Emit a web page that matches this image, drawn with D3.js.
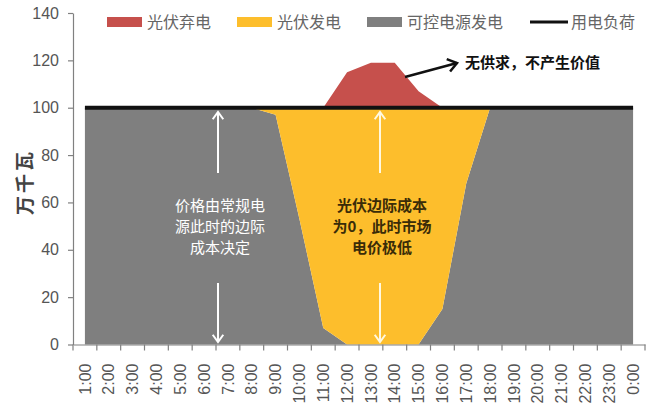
<!DOCTYPE html>
<html>
<head>
<meta charset="utf-8">
<script src="https://cdn.jsdelivr.net/npm/d3@7"></script>
<style>
  html, body { margin: 0; padding: 0; background: #fff; }
  svg { display: block; }
</style>
</head>
<body>
<svg id="chart" width="659" height="410"></svg>
<script>
// Hourly power balance on a typical day (unit: 万千瓦)
const hours = ["1:00","2:00","3:00","4:00","5:00","6:00","7:00","8:00","9:00","10:00","11:00","12:00",
               "13:00","14:00","15:00","16:00","17:00","18:00","19:00","20:00","21:00","22:00","23:00","0:00"];
const controllable = [100,100,100,100,100,100,100,100,97,53,7,0,0,0,0,15,68,100,100,100,100,100,100,100];
const pvUsed       = [0,0,0,0,0,0,0,0,3,47,93,100,100,100,100,85,32,0,0,0,0,0,0,0];
const pvCurtailed  = [0,0,0,0,0,0,0,0,0,0,0,15,19,19,7,0,0,0,0,0,0,0,0,0];
const load         = [100,100,100,100,100,100,100,100,100,100,100,100,100,100,100,100,100,100,100,100,100,100,100,100];
const yTicks = [0,20,40,60,80,100,120,140];

const seriesKeys = ["controllable","pvUsed","pvCurtailed"];
const seriesNames = { controllable: "可控电源发电", pvUsed: "光伏发电", pvCurtailed: "光伏弃电" };
const colors = { controllable: "#7F7F7F", pvUsed: "#FDBE2C", pvCurtailed: "#C6504C" };

const rows = hours.map((h, i) => ({
  hour: h, controllable: controllable[i], pvUsed: pvUsed[i], pvCurtailed: pvCurtailed[i], load: load[i]
}));

const svg = d3.select("#chart");
const font = "'Noto Sans CJK SC', 'Liberation Sans', sans-serif";
const numFont = "'Liberation Sans', 'Noto Sans', sans-serif";

const x = d3.scaleBand().domain(hours).range([73, 645]).padding(0);
const y = d3.scaleLinear().domain([0, 140]).range([344.5, 13]);
const cx = h => x(h) + x.bandwidth() / 2;

// stacked areas
const stacked = d3.stack().keys(seriesKeys)(rows);
const area = d3.area()
  .x(d => cx(d.data.hour))
  .y0(d => y(d[0]))
  .y1(d => y(d[1]))
  .curve(d3.curveLinear);

svg.append("g").selectAll("path")
  .data(stacked)
  .join("path")
  .attr("d", area)
  .attr("fill", d => colors[d.key]);

// load line
const line = d3.line().x(d => cx(d.hour)).y(d => y(d.load));
svg.append("path")
  .datum(rows)
  .attr("d", line)
  .attr("fill", "none")
  .attr("stroke", "#111")
  .attr("stroke-width", 4);

// y axis
const yAxis = d3.axisLeft(y).tickValues(yTicks).tickSize(5).tickSizeOuter(0).tickPadding(9);
const gy = svg.append("g").attr("transform", "translate(73,0)").call(yAxis);
gy.select(".domain").attr("stroke", "#808080").attr("stroke-width", 1.2);
gy.selectAll(".tick line").attr("stroke", "#808080").attr("stroke-width", 1.2);
gy.selectAll(".tick text").attr("font-family", numFont).attr("font-size", 16).attr("fill", "#555");

// x axis: labels at band centres, ticks on band boundaries
const xAxis = d3.axisBottom(x).tickSize(0).tickSizeOuter(0).tickPadding(0);
const gx = svg.append("g").attr("transform", "translate(0,344.5)").call(xAxis);
gx.select(".domain").attr("stroke", "#808080").attr("stroke-width", 1.2);
gx.selectAll(".tick text")
  .attr("font-family", numFont).attr("font-size", 16).attr("fill", "#555")
  .attr("text-anchor", "end")
  .attr("transform", "translate(0,19) rotate(-90)")
  .attr("x", 0).attr("y", 0).attr("dy", "0.35em");
const bounds = hours.map(h => x(h)).concat([x.range()[1]]);
gx.append("g").selectAll("line")
  .data(bounds)
  .join("line")
  .attr("x1", d => d).attr("x2", d => d)
  .attr("y1", 0).attr("y2", 6)
  .attr("stroke", "#808080").attr("stroke-width", 1.2);

// y axis title
svg.append("text")
  .attr("transform", "translate(25,182) rotate(-90)")
  .attr("text-anchor", "middle")
  .attr("dy", "0.35em")
  .attr("font-family", font).attr("font-size", 19).attr("font-weight", "bold")
  .attr("fill", "#444")
  .attr("letter-spacing", 3)
  .text("万千瓦");

// legend
const legend = [
  { key: "pvCurtailed", x: 107, type: "rect" },
  { key: "pvUsed", x: 237, type: "rect" },
  { key: "controllable", x: 367, type: "rect" },
  { key: "load", x: 530, type: "line" }
];
const lg = svg.append("g");
legend.forEach(l => {
  if (l.type === "rect") {
    lg.append("rect").attr("x", l.x).attr("y", 17).attr("width", 35).attr("height", 10).attr("fill", colors[l.key]);
    lg.append("text").attr("x", l.x + 40).attr("y", 22).attr("dy", "0.35em")
      .attr("font-family", font).attr("font-size", 16).attr("fill", "#666").text(seriesNames[l.key]);
  } else {
    lg.append("line").attr("x1", l.x).attr("x2", l.x + 38).attr("y1", 22).attr("y2", 22)
      .attr("stroke", "#111").attr("stroke-width", 3);
    lg.append("text").attr("x", l.x + 41).attr("y", 22).attr("dy", "0.35em")
      .attr("font-family", font).attr("font-size", 16).attr("fill", "#666").text("用电负荷");
  }
});

// arrows
function arrow(x1, y1, x2, y2, color, w, head) {
  svg.append("line").attr("x1", x1).attr("y1", y1).attr("x2", x2).attr("y2", y2)
    .attr("stroke", color).attr("stroke-width", w);
  const a = Math.atan2(y2 - y1, x2 - x1);
  const h = head, s = Math.PI / 5;
  const p1 = [x2 - h * Math.cos(a - s), y2 - h * Math.sin(a - s)];
  const p2 = [x2 - h * Math.cos(a + s), y2 - h * Math.sin(a + s)];
  svg.append("path").attr("d", `M${p1}L${x2},${y2}L${p2}`)
    .attr("fill", "none").attr("stroke", color).attr("stroke-width", w).attr("stroke-linejoin", "miter");
}
arrow(218, 173, 218, 112, "#fff", 2, 9);
arrow(218, 283, 218, 342, "#fff", 2, 9);
arrow(380, 173, 380, 112, "#FFF8E0", 2, 9);
arrow(380, 283, 380, 342, "#FFF8E0", 2, 9);
arrow(405, 77, 457, 63, "#111", 2.5, 11);

// annotations
function block(lines, cxPos, y0, color, weight, size) {
  const t = svg.append("text").attr("text-anchor", "middle")
    .attr("font-family", font).attr("font-size", size).attr("font-weight", weight).attr("fill", color);
  lines.forEach((s, i) => {
    t.append("tspan").attr("x", cxPos).attr("y", y0 + i * 21).attr("dy", "0.35em").text(s);
  });
}
block(["价格由常规电", "源此时的边际", "成本决定"], 220, 206, "#fff", "normal", 15);
block(["光伏边际成本", "为0，此时市场", "电价极低"], 382, 206, "#3a2c08", "bold", 15);
svg.append("text").attr("x", 465).attr("y", 63).attr("dy", "0.35em")
  .attr("font-family", font).attr("font-size", 15).attr("font-weight", "bold").attr("fill", "#111")
  .text("无供求，不产生价值");
</script>
</body>
</html>
